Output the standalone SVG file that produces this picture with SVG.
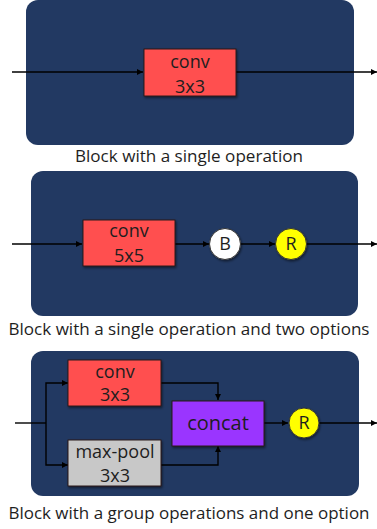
<svg xmlns="http://www.w3.org/2000/svg" width="377" height="529" viewBox="0 0 377 529">
<style>
.panel{fill:#223962}
.box{stroke:#2a1a1a;stroke-width:1;filter:url(#sh)}
.red{fill:#ff4f4f}
.gray{fill:#c8c8c8}
.purple{fill:#9a35ff}
.circ{stroke:#333;stroke-width:1;filter:url(#sh)}
.t{font-family:"Open Sans","Liberation Sans",sans-serif;fill:#1e1e1e;text-anchor:middle}
.bt{font-size:18px}
.cap{font-size:16.5px;fill:#1e1e1e}
.ln{fill:none;stroke:#000;stroke-width:1.4}
.arr{marker-end:url(#ah)}
</style>
<defs>
<marker id="ah" viewBox="0 0 10 10" refX="10" refY="5" markerWidth="6" markerHeight="6" markerUnits="userSpaceOnUse" orient="auto">
<path d="M0,0 L10,5 L0,10 z" fill="#000"/>
</marker>
<filter id="sh" x="-10%" y="-10%" width="130%" height="130%">
<feDropShadow dx="1" dy="1.5" stdDeviation="1" flood-color="#000" flood-opacity="0.5"/>
</filter>
</defs>

<g id="panel1">
<rect class="panel" x="26" y="0" width="328" height="145" rx="12"/>
</g>
<g id="panel2">
<rect class="panel" x="31" y="171" width="327" height="145" rx="12"/>
</g>
<g id="panel3">
<rect class="panel" x="31" y="351" width="328" height="145" rx="12"/>
</g>

<g id="connectors">
<line class="ln arr" x1="12" y1="72" x2="143" y2="72"/>
<line class="ln arr" x1="236" y1="72" x2="377" y2="72"/>
<line class="ln arr" x1="12" y1="244" x2="82" y2="244"/>
<line class="ln arr" x1="175" y1="244" x2="209" y2="244"/>
<line class="ln arr" x1="241" y1="244" x2="275" y2="244"/>
<line class="ln arr" x1="306" y1="244" x2="377" y2="244"/>
<line class="ln" x1="15" y1="423" x2="46" y2="423"/>
<polyline class="ln arr" points="46,423 46,383 68,383"/>
<polyline class="ln arr" points="46,423 46,465 68,465"/>
<polyline class="ln arr" points="161,383 218,383 218,400"/>
<polyline class="ln arr" points="161,465 218,465 218,446"/>
<line class="ln arr" x1="264" y1="423" x2="288" y2="423"/>
<line class="ln arr" x1="319" y1="423" x2="377" y2="423"/>
</g>

<g id="conv1">
<rect class="box red" x="144" y="49" width="92" height="47"/>
<text class="t bt" x="190" y="68">conv</text>
<text class="t bt" x="190" y="93">3x3</text>
</g>
<g id="conv2">
<rect class="box red" x="83" y="220" width="92" height="46"/>
<text class="t bt" x="129" y="237">conv</text>
<text class="t bt" x="129" y="262">5x5</text>
</g>
<g id="B">
<circle class="circ" cx="225" cy="244" r="15.5" fill="#fff"/>
<text class="t bt" x="225" y="250">B</text>
</g>
<g id="R1">
<circle class="circ" cx="291" cy="244" r="15.5" fill="#ffff00"/>
<text class="t bt" x="291" y="250">R</text>
</g>
<g id="conv3">
<rect class="box red" x="68" y="360" width="93" height="46"/>
<text class="t bt" x="115" y="378">conv</text>
<text class="t bt" x="115" y="401">3x3</text>
</g>
<g id="maxpool">
<rect class="box gray" x="68" y="440" width="93" height="46"/>
<text class="t bt" x="115" y="458">max-pool</text>
<text class="t bt" x="115" y="482">3x3</text>
</g>
<g id="concat">
<rect class="box purple" x="172" y="401" width="92" height="45"/>
<text class="t" x="218" y="430" font-size="20">concat</text>
</g>
<g id="R2">
<circle class="circ" cx="304" cy="423" r="15" fill="#ffff00"/>
<text class="t bt" x="304" y="429">R</text>
</g>

<g id="captions">
<text class="t cap" x="189" y="162" textLength="228" lengthAdjust="spacingAndGlyphs">Block with a single operation</text>
<text class="t cap" x="189" y="335" textLength="361" lengthAdjust="spacingAndGlyphs">Block with a single operation and two options</text>
<text class="t cap" x="189" y="519" textLength="361" lengthAdjust="spacingAndGlyphs">Block with a group operations and one option</text>
</g>
</svg>
